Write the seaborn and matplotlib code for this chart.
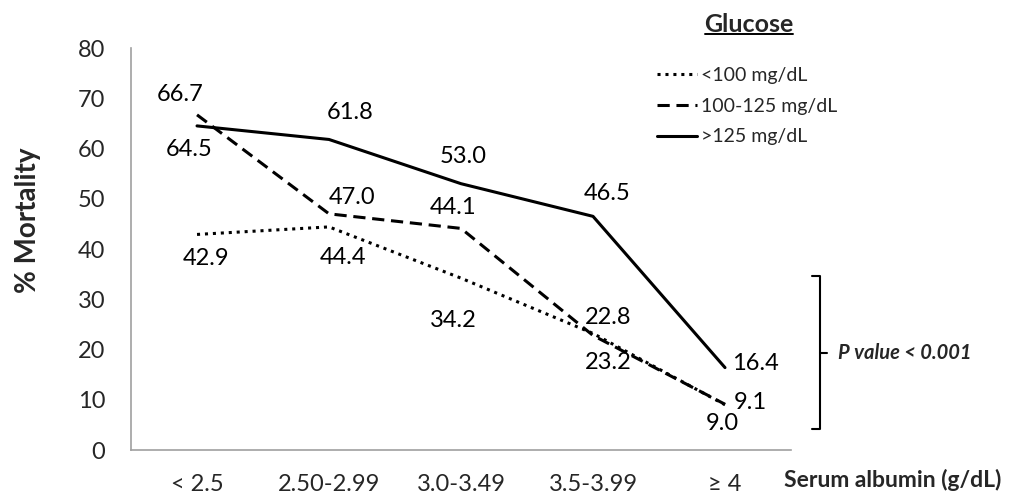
import matplotlib
matplotlib.use("Agg")
import matplotlib.pyplot as plt
import seaborn as sns
import pandas as pd
from matplotlib.lines import Line2D

categories = ["< 2.5", "2.50-2.99", "3.0-3.49", "3.5-3.99", "\u2265 4"]
series_names = ["<100 mg/dL", "100-125 mg/dL", ">125 mg/dL"]
low_glucose = [42.9, 44.4, 34.2, 23.2, 9.0]
mid_glucose = [66.7, 47.0, 44.1, 22.8, 9.1]
high_glucose = [64.5, 61.8, 53.0, 46.5, 16.4]
y_ticks = [0, 10, 20, 30, 40, 50, 60, 70, 80]

sns.set_theme(style="white")
plt.rcParams["font.family"] = ["Lato", "DejaVu Sans"]

df = pd.DataFrame({
    "Albumin": categories * 3,
    "Mortality": low_glucose + mid_glucose + high_glucose,
    "Glucose": [series_names[0]] * 5 + [series_names[1]] * 5 + [series_names[2]] * 5,
})

fig = plt.figure(figsize=(10.11, 4.95), dpi=100)
ax = fig.add_axes([0.1296, 0.0909, 0.6528, 0.8121])

dot_style = (1, 1.6)
dash_style = (4, 2.2)
dash_map = {series_names[0]: dot_style, series_names[1]: dash_style, series_names[2]: ""}
sns.lineplot(data=df, x="Albumin", y="Mortality", hue="Glucose", style="Glucose",
             dashes=dash_map, palette=["black"] * 3, linewidth=2.2, sort=False,
             legend=False, ax=ax)

ax.set_xlim(-0.5, 4.5)
ax.set_ylim(0, 80)
ax.set_yticks(y_ticks)
ax.set_yticklabels([str(v) for v in y_ticks], fontsize=17)
ax.set_xticks(range(len(categories)))
ax.set_xticklabels(categories, fontsize=17)
ax.set_xticks([i - 0.5 for i in range(len(categories) + 1)], minor=True)
ax.tick_params(axis="x", which="major", length=0, pad=17)
ax.tick_params(axis="x", which="minor", length=5.5, width=1.2, color="#a0a0a0", direction="out")
ax.tick_params(axis="y", which="major", length=6.5, width=1.2, color="#a0a0a0", direction="out", pad=12)
for s in ["top", "right"]:
    ax.spines[s].set_visible(False)
for s in ["left", "bottom"]:
    ax.spines[s].set_color("#a0a0a0")
    ax.spines[s].set_linewidth(1.2)
ax.set_xlabel("")
ax.set_ylabel("")
fig.text(28 / 1011, 1 - 220 / 495, "% Mortality", rotation=90, ha="center", va="center",
         fontsize=20, fontweight="bold")

# data labels: offsets in pixels (dx right, dy up), converted to points
def px(v):
    return v * 0.72

low_off = [(9, -24), (14, -31), (-8, -42), (15, -29), (-3, -19)]
mid_off = [(-17, 20), (23, 16), (-8, 21), (15, 18), (25, 2)]
high_off = [(-8, -24), (21, 27), (2, 27), (14, 23), (30, 4)]
for vals, offs in [(low_glucose, low_off), (mid_glucose, mid_off), (high_glucose, high_off)]:
    for i, (v, (dx, dy)) in enumerate(zip(vals, offs)):
        ax.annotate(f"{v:.1f}", (i, v), xytext=(px(dx), px(dy)), textcoords="offset points",
                    ha="center", va="center", fontsize=17, color="black")

# legend
handles = [Line2D([0], [0], color="black", lw=2.2, dashes=dot_style),
           Line2D([0], [0], color="black", lw=2.2, dashes=dash_style),
           Line2D([0], [0], color="black", lw=2.2)]
leg = fig.legend(handles, series_names, loc="upper left", bbox_to_anchor=(0.642, 0.88),
                 frameon=False, fontsize=14, handlelength=2.06, handletextpad=0.2,
                 labelspacing=0.7, borderaxespad=0)
fig.text(749 / 1011, 1 - 24 / 495, "Glucose", ha="center", va="center", fontsize=18,
         fontweight="bold")
fig.add_artist(Line2D([705 / 1011, 793 / 1011], [1 - 34 / 495, 1 - 34 / 495], color="black",
                      lw=1.4, transform=fig.transFigure))

# bracket
bx = 820 / 1011
y_top = 1 - 276 / 495
y_bot = 1 - 429 / 495
y_mid = 1 - 353 / 495
fig.add_artist(Line2D([812 / 1011, bx, bx, 812 / 1011], [y_top, y_top, y_bot, y_bot],
                      color="black", lw=1.5, transform=fig.transFigure))
fig.add_artist(Line2D([bx, 827 / 1011], [y_mid, y_mid], color="black", lw=1.5,
                      transform=fig.transFigure))
fig.text(838 / 1011, y_mid, "P value < 0.001", ha="left", va="center", fontsize=14.5,
         fontweight="bold", fontstyle="italic")
fig.text(1001 / 1011, 1 - 480 / 495, "Serum albumin (g/dL)", ha="right", va="center",
         fontsize=16.5, fontweight="bold")

fig.savefig("out.png", dpi=100)
